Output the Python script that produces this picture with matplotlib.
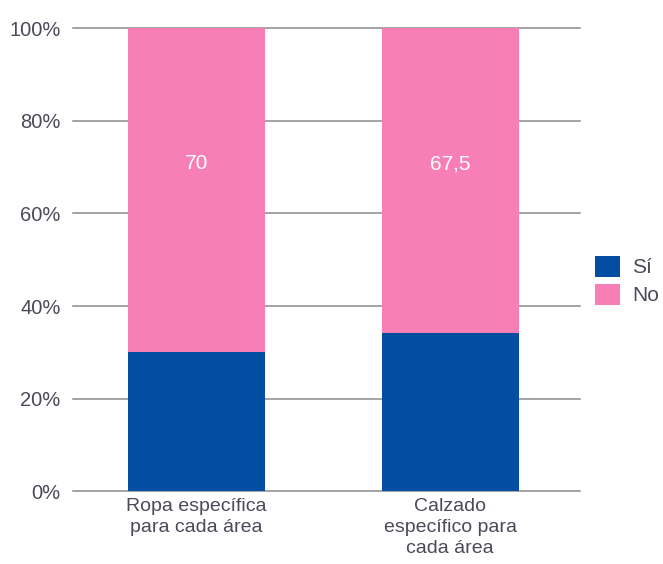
import matplotlib.pyplot as plt
import numpy as np

categories = ["Ropa específica\npara cada área", "Calzado\nespecífico para\ncada área"]
si_vals = [30, 35]
no_vals = [70, 67.5]
no_labels = ["70", "67,5"]
yticks = [0, 20, 40, 60, 80, 100]

blue = "#034ea2"
pink = "#f77fb5"
txt = "#4a4a58"

plt.rcParams['font.family'] = ['Liberation Sans', 'DejaVu Sans']

si = np.array(si_vals, dtype=float)
no = np.array(no_vals, dtype=float)
tot = si + no
si_pct = si / tot * 100
no_pct = no / tot * 100

fig = plt.figure(figsize=(6.63, 5.64), dpi=100)
ax = fig.add_axes([0.110, 0.129, 0.765, 0.821])

x = np.arange(len(categories))
w = 0.54
ax.bar(x, si_pct, width=w, color=blue, label="Sí", zorder=3)
ax.bar(x, no_pct, width=w, bottom=si_pct, color=pink, label="No", zorder=3)

for i, lab in enumerate(no_labels):
    top = si_pct[i] + no_pct[i]
    ax.text(x[i], top - 29.3, lab, ha="center", va="center",
            color="white", fontsize=15, zorder=4)

ax.set_xlim(-0.487, 1.513)
ax.set_ylim(0, 100)
ax.set_yticks(yticks)
ax.set_yticklabels([f"{v}%" for v in yticks])
ax.yaxis.grid(True, color="#8a8a8a", linewidth=1.1, zorder=0)
for gl in ax.get_ygridlines():
    gl.set_clip_on(False)
ax.set_xticks(x)
ax.set_xticklabels(categories, linespacing=1.3)
ax.tick_params(axis="both", length=0, labelsize=14.5, colors=txt)
ax.tick_params(axis="y", pad=9)
ax.tick_params(axis="x", labelsize=14, pad=5)
for s in ax.spines.values():
    s.set_visible(False)
ax.set_axisbelow(True)

ax.legend(loc="center left", bbox_to_anchor=(1.0, 0.455), frameon=False,
          borderaxespad=0.3, fontsize=15, labelcolor=txt,
          handlelength=1.2, handleheight=1.2,
          handletextpad=0.6, labelspacing=0.3)

fig.savefig("out.png", dpi=100)
